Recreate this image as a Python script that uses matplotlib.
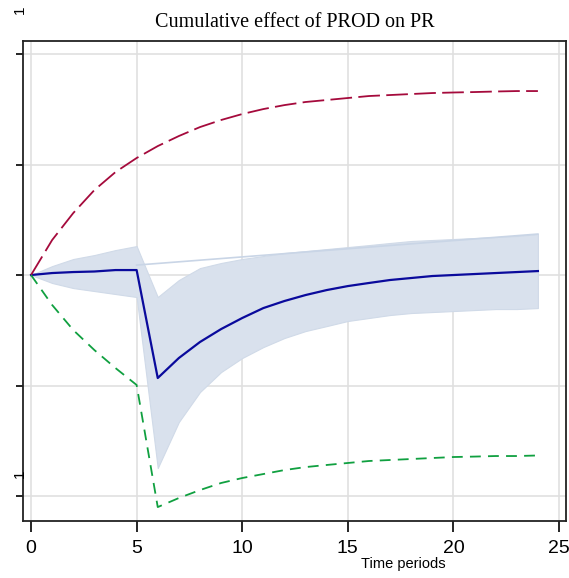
import numpy as np
import matplotlib
matplotlib.use("Agg")
import matplotlib.pyplot as plt

# values (pixel scale: 0.1 = 110.5 px, zero at the start point)
periods = np.arange(25)
effect = [0.0, 0.0018, 0.0027, 0.0032, 0.0045, 0.0045, -0.0932, -0.0751, -0.0606,
          -0.0489, -0.0389, -0.0299, -0.0235, -0.0181, -0.0136, -0.0100, -0.0072,
          -0.0045, -0.0027, -0.0009, 0.0, 0.0009, 0.0018, 0.0027, 0.0036]
band_hi = [0.0, 0.0081, 0.0145, 0.0181, 0.0226, 0.0262, -0.0199, -0.0045, 0.0063,
           0.0109, 0.0145, 0.0172, 0.0199, 0.0217, 0.0235, 0.0253, 0.0271, 0.0290,
           0.0308, 0.0317, 0.0326, 0.0335, 0.0344, 0.0353, 0.0371]
band_lo = [0.0, -0.0072, -0.0118, -0.0145, -0.0172, -0.0199, -0.1747, -0.1330, -0.1059,
           -0.0878, -0.0751, -0.0652, -0.0570, -0.0507, -0.0462, -0.0416, -0.0389,
           -0.0362, -0.0344, -0.0335, -0.0326, -0.0317, -0.0308, -0.0308, -0.0299]
upper = [0.0, 0.0317, 0.0561, 0.0769, 0.0932, 0.1059, 0.1167, 0.1258, 0.1339, 0.1403,
         0.1457, 0.1502, 0.1538, 0.1566, 0.1584, 0.1602, 0.1620, 0.1629, 0.1638,
         0.1647, 0.1652, 0.1656, 0.1661, 0.1665, 0.1665]
lower = [0.0, -0.0271, -0.0498, -0.0679, -0.0842, -0.0995, -0.2100, -0.2018, -0.1946,
         -0.1882, -0.1837, -0.1801, -0.1765, -0.1738, -0.1719, -0.1701, -0.1683,
         -0.1674, -0.1665, -0.1656, -0.1647, -0.1643, -0.1638, -0.1638, -0.1633]
edge_t = [5, 24]
edge_v = [0.0090, 0.0371]

yticks = [-0.2, -0.1, 0.0, 0.1, 0.2]
xticks = [0, 5, 10, 15, 20, 25]

sans = "Liberation Sans"

fig = plt.figure(figsize=(5.69, 5.78), dpi=100)
ax = fig.add_axes([23 / 569, 57 / 578, 543 / 569, 480 / 578])

ax.fill_between(periods, band_lo, band_hi, color="#d9e1ed", lw=0.8,
                edgecolor="#d0dae8", zorder=1)
ax.plot(edge_t, edge_v, color="#c9d5e6", lw=1.2, zorder=1.5)
ax.plot(periods, effect, color="#0a0a9c", lw=1.6, zorder=3)
ax.plot(periods, upper, color="#a50a3c", lw=1.3, dashes=(12, 3.5), zorder=3)
ax.plot(periods, lower, color="#10a040", lw=1.3, dashes=(6, 4), zorder=3)

ax.set_xlim(-0.38, 25.33)
ax.set_ylim(-0.2226, 0.2118)
ax.set_xticks(xticks)
ax.set_yticks(yticks)
ax.set_yticklabels([""] * len(yticks))
ax.grid(True, color="#e0e0e0", lw=1.2)
ax.set_axisbelow(True)
for s in ax.spines.values():
    s.set_color("#222222")
    s.set_linewidth(1.3)
ax.tick_params(axis="x", length=8, width=1.2, pad=6, labelsize=14)
ax.tick_params(axis="y", length=5, width=1.2)
for lab in ax.get_xticklabels():
    lab.set_family(sans)

ax.set_xlabel("Time periods", family=sans, fontsize=10.5)
ax.xaxis.set_label_coords(0.70, -0.075)
ax.set_title("Cumulative effect of PROD on PR", family="Liberation Serif",
             fontsize=14.5, pad=10)

fig.text(20 / 569, 1 - 10 / 578, "1", rotation=90, ha="center", va="center",
         family=sans, fontsize=11)
fig.text(20 / 569, 1 - 474 / 578, "1", rotation=90, ha="center", va="center",
         family=sans, fontsize=11)

fig.savefig("out.png", dpi=100)
